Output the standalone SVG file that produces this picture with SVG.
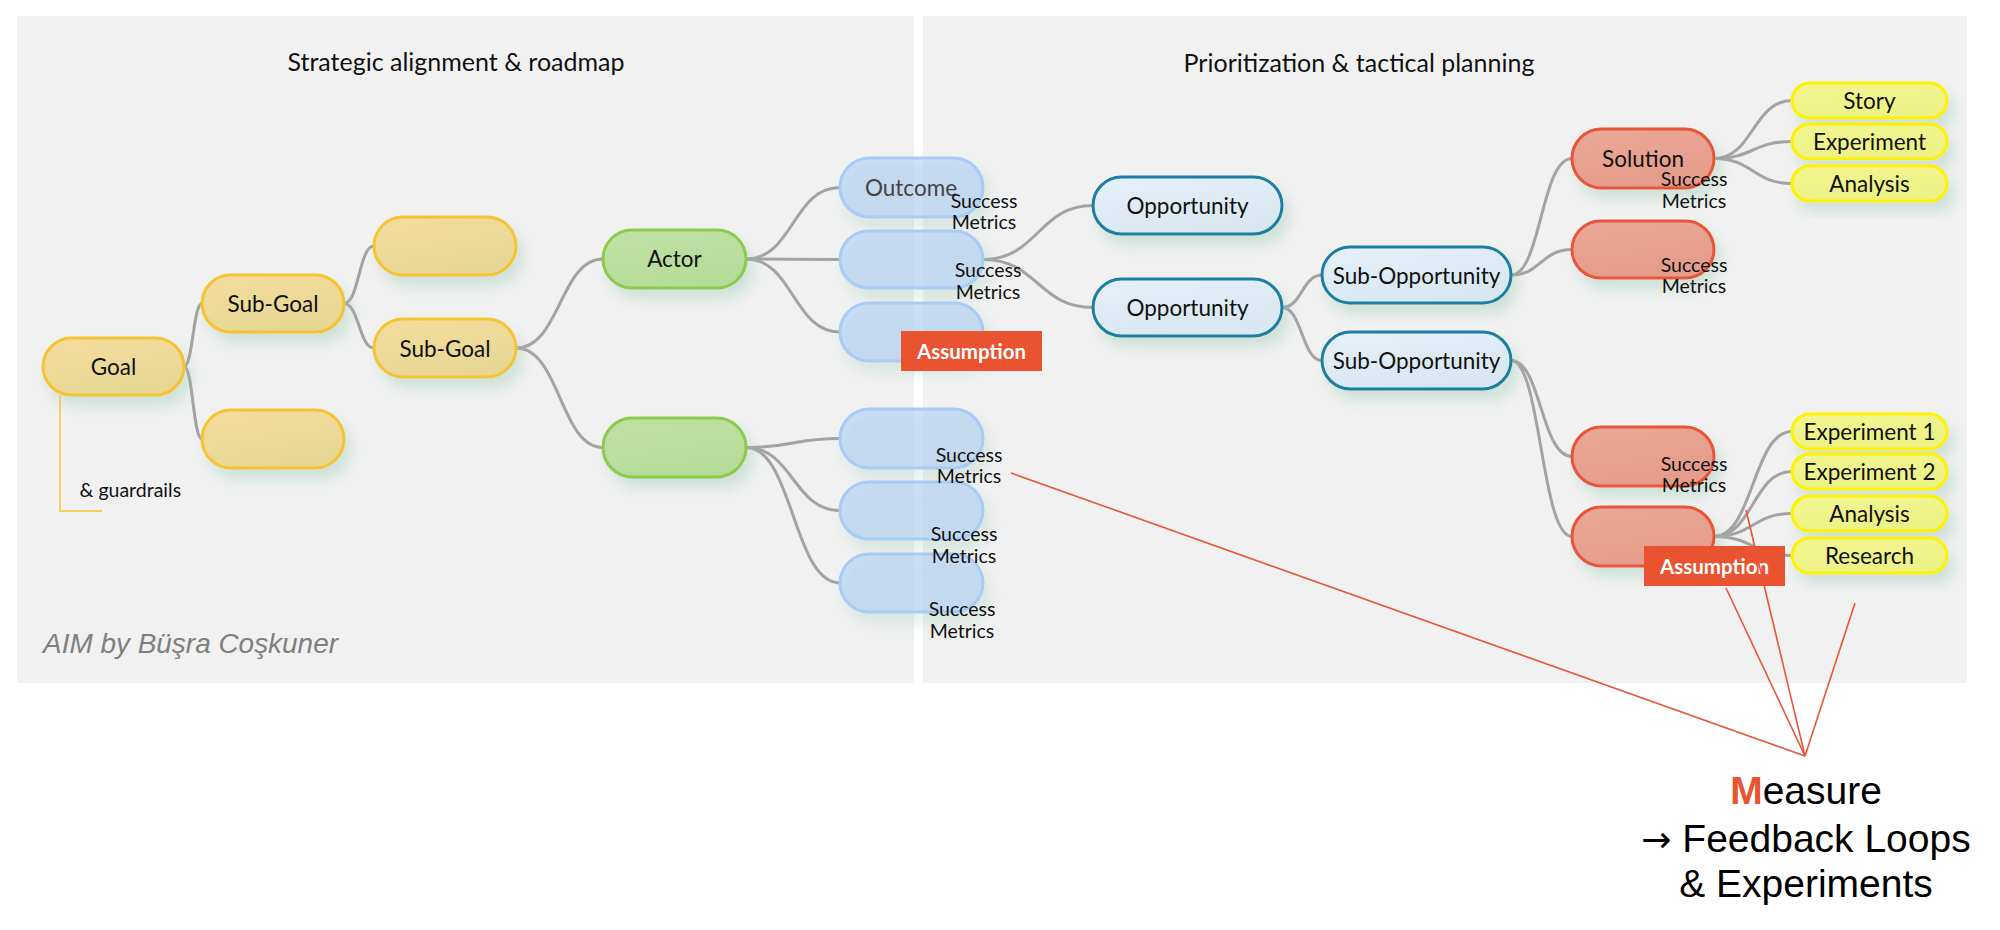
<svg xmlns="http://www.w3.org/2000/svg" width="2000" height="930" viewBox="0 0 2000 930">
<defs>
<filter id="sh" x="-30%" y="-30%" width="160%" height="180%">
<feDropShadow dx="6" dy="10" stdDeviation="7" flood-color="#8FC3A8" flood-opacity="0.35"/>
</filter>
<linearGradient id="gGold" x1="0" y1="0" x2="0.4" y2="1"><stop offset="0" stop-color="#F4DC9E"/><stop offset="1" stop-color="#E8D794"/></linearGradient>
<linearGradient id="gGreen" x1="0" y1="0" x2="0.4" y2="1"><stop offset="0" stop-color="#C0E1A5"/><stop offset="1" stop-color="#B6DC99"/></linearGradient>
<linearGradient id="gTeal" x1="0" y1="0" x2="0.4" y2="1"><stop offset="0" stop-color="#E6F0F8"/><stop offset="1" stop-color="#D8E7F1"/></linearGradient>
<linearGradient id="gRed" x1="0" y1="0" x2="0.4" y2="1"><stop offset="0" stop-color="#EBA898"/><stop offset="1" stop-color="#E59C8A"/></linearGradient>
<linearGradient id="gYel" x1="0" y1="0" x2="0.4" y2="1"><stop offset="0" stop-color="#F2F590"/><stop offset="1" stop-color="#ECF285"/></linearGradient>
</defs>
<style>
.panel{fill:#F1F1F1}
.title{font-family:Lato,"Liberation Sans",sans-serif;font-size:25px;fill:#111;text-anchor:middle}
.lbl{font-family:Lato,"Liberation Sans",sans-serif;font-size:22.5px;fill:#111;text-anchor:middle}
.sm{font-family:Lato,"Liberation Sans",sans-serif;font-size:19.5px;fill:#111;text-anchor:middle}
.gold{fill:url(#gGold);stroke:#F6C431;stroke-width:3;filter:url(#sh)}
.green{fill:url(#gGreen);stroke:#8CCB4C;stroke-width:3;filter:url(#sh)}
.blue{fill:#B3D1F5;fill-opacity:0.65;stroke:#A8CBF8;stroke-width:3;filter:url(#sh)}
.teal{fill:url(#gTeal);stroke:#1B7FA1;stroke-width:3;filter:url(#sh)}
.red{fill:url(#gRed);stroke:#E9553A;stroke-width:3;filter:url(#sh)}
.yel{fill:url(#gYel);stroke:#FFF200;stroke-width:3;filter:url(#sh)}
.conn path{fill:none;stroke:#A3A3A3;stroke-width:3}
.rl line{stroke:#E9553A;stroke-width:1.6}
.badge rect{fill:#E9532F}
.badge text{font-family:Lato,"Liberation Sans",sans-serif;font-size:20.5px;font-weight:bold;fill:#fff;text-anchor:middle}
.big{font-family:"Liberation Sans",Arial,sans-serif;font-size:39px;fill:#000;text-anchor:middle}
</style>

<rect class="panel" x="17" y="16" width="897" height="667"/>
<rect class="panel" x="923" y="16" width="1044" height="667"/>
<text class="title" x="456" y="71">Strategic alignment &amp; roadmap</text>
<text class="title" x="1359" y="72">Prioritization &amp; tactical planning</text>

<g id="connectors" class="conn">
<path d="M184,366.5 C193,366.5 193,303.5 202,303.5"/>
<path d="M184,366.5 C193,366.5 193,439 202,439"/>
<path d="M344,303.5 C359,303.5 359,246 374,246"/>
<path d="M344,303.5 C359,303.5 359,348 374,348"/>
<path d="M516,348 C560,348 560,259 603,259"/>
<path d="M516,348 C560,348 560,447.5 603,447.5"/>
<path d="M746,259 C793,259 793,187.5 840,187.5"/>
<path d="M746,259 C793,259 793,259.5 840,259.5"/>
<path d="M746,259 C793,259 793,332 840,332"/>
<path d="M746,447.5 C793,447.5 793,438.5 840,438.5"/>
<path d="M746,447.5 C793,447.5 793,510.5 840,510.5"/>
<path d="M746,447.5 C793,447.5 793,583 840,583"/>
<path d="M983,259.5 C1038,259.5 1038,205.5 1093,205.5"/>
<path d="M983,259.5 C1038,259.5 1038,307.5 1093,307.5"/>
<path d="M1282,307.5 C1302,307.5 1302,275 1322,275"/>
<path d="M1282,307.5 C1302,307.5 1302,360.5 1322,360.5"/>
<path d="M1511,275 C1541,275 1541,158.5 1572,158.5"/>
<path d="M1511,275 C1541,275 1541,249.5 1572,249.5"/>
<path d="M1511,360.5 C1541,360.5 1541,456.5 1572,456.5"/>
<path d="M1511,360.5 C1541,360.5 1541,536.5 1572,536.5"/>
<path d="M1714,158.5 C1753,158.5 1753,100.5 1792,100.5"/>
<path d="M1714,158.5 C1753,158.5 1753,141.5 1792,141.5"/>
<path d="M1714,158.5 C1753,158.5 1753,183.5 1792,183.5"/>
<path d="M1714,536.5 C1753,536.5 1753,431.5 1792,431.5"/>
<path d="M1714,536.5 C1753,536.5 1753,471.5 1792,471.5"/>
<path d="M1714,536.5 C1753,536.5 1753,513.5 1792,513.5"/>
<path d="M1714,536.5 C1753,536.5 1753,555.5 1792,555.5"/>
</g>

<g id="goal"><rect class="gold" x="43" y="338" width="141" height="57" rx="28.5"/><text class="lbl" x="113.5" y="375">Goal</text></g>
<g id="guardrails"><path d="M60,395 V511 H102" fill="none" stroke="#F6C431" stroke-width="1.5"/><text class="sm" x="79.5" y="497" style="text-anchor:start">&amp; guardrails</text></g>
<g id="subgoal1"><rect class="gold" x="202" y="275" width="142" height="57" rx="28.5"/><text class="lbl" x="273" y="312">Sub-Goal</text></g>
<g id="gold-top"><rect class="gold" x="374" y="217" width="142" height="58" rx="29"/></g>
<g id="subgoal2"><rect class="gold" x="374" y="319" width="142" height="58" rx="29"/><text class="lbl" x="445" y="356.5">Sub-Goal</text></g>
<g id="gold-bottom"><rect class="gold" x="202" y="410" width="142" height="58" rx="29"/></g>

<g id="actor"><rect class="green" x="603" y="230" width="143" height="58" rx="29"/><text class="lbl" x="674.5" y="267">Actor</text></g>
<g id="actor2"><rect class="green" x="603" y="418" width="143" height="59" rx="29.5"/></g>

<g id="outcome"><rect class="blue" x="840" y="158" width="143" height="59" rx="29.5"/><text class="lbl" x="911" y="195.5" style="fill:#444">Outcome</text></g>
<g id="outcome2"><rect class="blue" x="840" y="231" width="143" height="57" rx="28.5"/></g>
<g id="outcome3"><rect class="blue" x="840" y="303" width="143" height="58" rx="29"/></g>
<g id="outcome4"><rect class="blue" x="840" y="409" width="143" height="59" rx="29.5"/></g>
<g id="outcome5"><rect class="blue" x="840" y="482" width="143" height="57" rx="28.5"/></g>
<g id="outcome6"><rect class="blue" x="840" y="554" width="143" height="58" rx="29"/></g>

<g id="opportunity1"><rect class="teal" x="1093" y="177" width="189" height="57" rx="28.5"/><text class="lbl" x="1187.5" y="214">Opportunity</text></g>
<g id="opportunity2"><rect class="teal" x="1093" y="279" width="189" height="57" rx="28.5"/><text class="lbl" x="1187.5" y="316">Opportunity</text></g>
<g id="subopp1"><rect class="teal" x="1322" y="247" width="189" height="56" rx="28"/><text class="lbl" x="1416.5" y="283.5">Sub-Opportunity</text></g>
<g id="subopp2"><rect class="teal" x="1322" y="332" width="189" height="57" rx="28.5"/><text class="lbl" x="1416.5" y="369">Sub-Opportunity</text></g>

<g id="solution"><rect class="red" x="1572" y="129" width="142" height="59" rx="29.5"/><text class="lbl" x="1643" y="167">Solution</text></g>
<g id="solution2"><rect class="red" x="1572" y="221" width="142" height="57" rx="28.5"/></g>
<g id="solution3"><rect class="red" x="1572" y="427" width="142" height="59" rx="29.5"/></g>
<g id="solution4"><rect class="red" x="1572" y="507" width="142" height="59" rx="29.5"/></g>

<g id="story"><rect class="yel" x="1792" y="83" width="155" height="35" rx="17.5"/><text class="lbl" x="1869.5" y="108.5">Story</text></g>
<g id="experiment"><rect class="yel" x="1792" y="124" width="155" height="35" rx="17.5"/><text class="lbl" x="1869.5" y="149.5">Experiment</text></g>
<g id="analysis"><rect class="yel" x="1792" y="166" width="155" height="35" rx="17.5"/><text class="lbl" x="1869.5" y="191.5">Analysis</text></g>
<g id="experiment1"><rect class="yel" x="1792" y="414" width="155" height="35" rx="17.5"/><text class="lbl" x="1869.5" y="439.5">Experiment 1</text></g>
<g id="experiment2"><rect class="yel" x="1792" y="454" width="155" height="35" rx="17.5"/><text class="lbl" x="1869.5" y="479.5">Experiment 2</text></g>
<g id="analysis2"><rect class="yel" x="1792" y="496" width="155" height="35" rx="17.5"/><text class="lbl" x="1869.5" y="521.5">Analysis</text></g>
<g id="research"><rect class="yel" x="1792" y="538" width="155" height="35" rx="17.5"/><text class="lbl" x="1869.5" y="563.5">Research</text></g>

<g id="success-metrics">
<text class="sm" x="984" y="208">Success<tspan x="984" y="229">Metrics</tspan></text>
<text class="sm" x="988" y="277">Success<tspan x="988" y="299">Metrics</tspan></text>
<text class="sm" x="969" y="462">Success<tspan x="969" y="483">Metrics</tspan></text>
<text class="sm" x="964" y="541">Success<tspan x="964" y="563">Metrics</tspan></text>
<text class="sm" x="962" y="616">Success<tspan x="962" y="638">Metrics</tspan></text>
<text class="sm" x="1694" y="186">Success<tspan x="1694" y="208">Metrics</tspan></text>
<text class="sm" x="1694" y="272">Success<tspan x="1694" y="293">Metrics</tspan></text>
<text class="sm" x="1694" y="471">Success<tspan x="1694" y="492">Metrics</tspan></text>
</g>

<g id="assumption1" class="badge"><rect x="901" y="331" width="141" height="40"/><text x="971.5" y="358.5">Assumption</text></g>
<g id="assumption2" class="badge"><rect x="1644" y="546" width="141" height="40"/><text x="1714.5" y="573.5">Assumption</text></g>

<g id="measure-lines" class="rl">
<line x1="1011" y1="473" x2="1805" y2="756"/>
<line x1="1726" y1="588" x2="1805" y2="756"/>
<line x1="1746" y1="510" x2="1805" y2="756"/>
<line x1="1855" y1="603" x2="1805" y2="756"/>
</g>

<g id="measure">
<text class="big" x="1806" y="804"><tspan fill="#E9532F" font-weight="bold">M</tspan>easure</text>
<text class="big" x="1806" y="852"><tspan font-family="'DejaVu Sans',sans-serif" font-size="36">→</tspan> Feedback Loops</text>
<text class="big" x="1806" y="897">&amp; Experiments</text>
</g>

<text x="43" y="653" font-family="'Liberation Sans',Arial,sans-serif" font-style="italic" font-size="27" fill="#7F7F7F" textLength="295" lengthAdjust="spacingAndGlyphs">AIM by Büşra Coşkuner</text>
</svg>
